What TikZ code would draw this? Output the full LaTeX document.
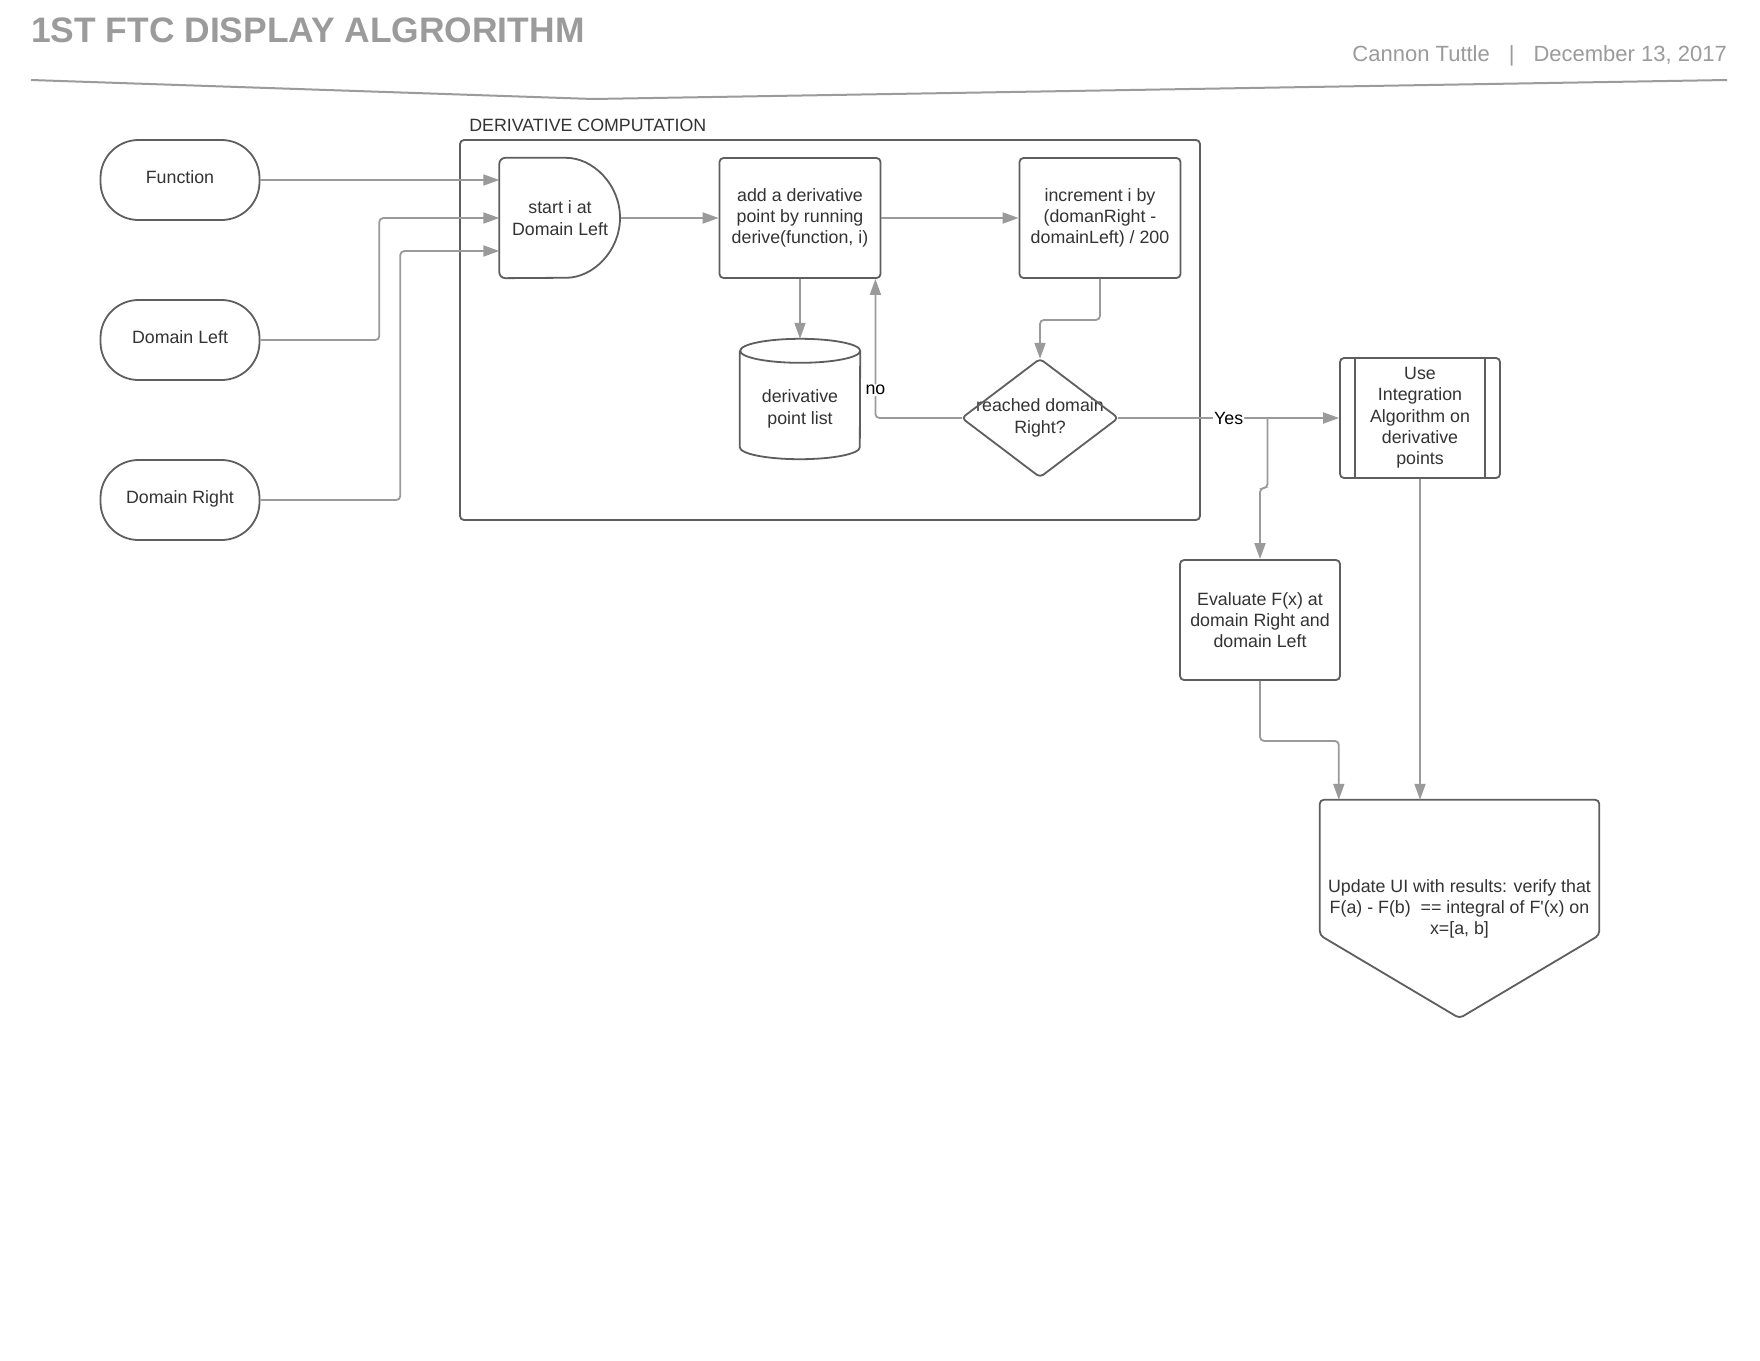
\documentclass[tikz,border=0pt]{standalone}
\usepackage{fontspec}
\setmainfont{Liberation Sans}[Ligatures=TeXOff]
\usetikzlibrary{arrows.meta,calc}
\definecolor{edge}{HTML}{5E5E5E}
\definecolor{wire}{HTML}{9A9A9A}
\definecolor{ink}{HTML}{333333}
\definecolor{head}{HTML}{9B9B9B}
\newcommand{\boxfont}{\fontsize{17.8}{21.3}\selectfont}

\begin{document}
\begin{tikzpicture}[x=1pt, y=-1pt,
  every node/.style={text=ink, font=\boxfont, align=center, inner sep=0pt},
  term/.style={draw=edge, line width=1.8pt, rounded corners=38pt, minimum width=159pt, minimum height=80pt, text depth=6pt},
  proc/.style={draw=edge, line width=1.8pt, rounded corners=4pt, minimum width=161pt, minimum height=120pt},
  bare/.style={minimum width=#1, minimum height=120pt},
  outline/.style={draw=edge, line width=1.8pt, rounded corners=4pt},
  flow/.style={draw=wire, line width=1.8pt, rounded corners=4pt, -{Triangle[length=16pt, width=11pt]}},
  tag/.style={text=black, fill=white, inner sep=1pt}]
\fill[white] (0,0) rectangle (1760,1360);
\useasboundingbox (0,0) rectangle (1760,1360);

\node[anchor=west, text=head, font=\fontsize{35.4}{42}\selectfont\bfseries] (title) at (31,30) {1ST FTC DISPLAY ALGRORITHM};
\node[anchor=base east, text=head, font=\fontsize{22}{26}\selectfont] (byline) at (1727,61) {Cannon Tuttle\hspace{19pt}|\hspace{19pt}December 13, 2017};
\draw[head, line width=2pt] (31,80) -- (593,99) -- (1727,80);

\node[outline, minimum width=740pt, minimum height=380pt] (dcomp) at (830,330) {};
\node[anchor=base west] (dctitle) at ([xshift=10pt, yshift=8pt]dcomp.north west) {DERIVATIVE COMPUTATION};

\node[term] (func) at (180,180) {Function};
\node[term] (dleft) at (180,340) {Domain Left};
\node[term] (dright) at (180,500) {Domain Right};

\node[bare=121pt] (start) at (560,218) {start i at\\Domain Left};
\draw[outline, rounded corners=6pt] (start.north) arc[start angle=90, end angle=-90, radius=60pt] -- (start.south west) -- (start.north west) -- cycle;

\node[proc] (add) at (800,218) {add a derivative\\point by running\\derive(function, i)};
\node[proc] (incr) at (1100,218) {increment i by\\(domanRight -\\domainLeft) / 200};

\node[bare=120pt, label={[name=dpltext, yshift=-10pt]center:{derivative\\point list}}] (dpl) at (800,399) {};
\draw[outline, sharp corners] ([yshift=-12pt]dpl.north west) -- ([yshift=12pt]dpl.south west) arc[start angle=180, end angle=360, x radius=60pt, y radius=12pt] -- ([yshift=-12pt]dpl.north east) arc[start angle=0, end angle=180, x radius=60pt, y radius=12pt] arc[start angle=180, end angle=360, x radius=60pt, y radius=12pt];

\node[bare=156pt, minimum height=118pt] (cond) at (1040,418) {reached domain\\Right?};
\draw[outline] (cond.north) -- (cond.east) -- (cond.south) -- (cond.west) -- cycle;

\node[proc, minimum width=160pt] (intg) at (1420,418) {Use\\Integration\\Algorithm on\\derivative\\points};
\draw[edge, line width=1.8pt] ([xshift=16pt]intg.north west) -- ([xshift=16pt]intg.south west) ([xshift=-16pt]intg.north east) -- ([xshift=-16pt]intg.south east);

\node[proc, minimum width=160pt] (eval) at (1260,620) {Evaluate F(x) at\\domain Right and\\domain Left};

\node[bare=279pt, minimum height=218pt] (update) at (1459.5,909) {Update UI with results: verify that\\F(a) - F(b)\ \ == integral of F'(x) on\\x=[a, b]};
\draw[outline] (update.north west) -- (update.north east) -- ([yshift=83pt]update.south east) -- (update.south) -- ([yshift=83pt]update.south west) -- cycle;

\draw[flow] (func.east) -- (func.east -| start.west);
\draw[flow] (dleft.east) -| ([xshift=-120pt]start.west) -- (start.west);
\draw[flow] (dright.east) -| ([xshift=-99pt, yshift=-33pt]start.west) -- ([yshift=-33pt]start.west);
\draw[flow] (start.east) -- (add.west);
\draw[flow] (add.east) -- (incr.west);
\draw[flow] (add.south) -- (dpl.north);
\draw[flow] (incr.south) -- ++(0,41) -| (cond.north);
\draw[flow] (cond.west) -| node[tag, pos=0.6] (nolabel) {no} ([xshift=-6pt]add.south east);
\draw[flow] (cond.east) -- node[tag] (yeslabel) {Yes} (intg.west);
\coordinate (split) at ($(cond.east)!0.676!(intg.west)$);
\draw[flow] (split) -- ++(0,70) -| (eval.north);
\draw[flow] (eval.south) -- ++(0,60) -| ([xshift=19pt]update.north west);
\draw[flow] (intg.south) -- (intg.south |- update.north);
\end{tikzpicture}
\end{document}
